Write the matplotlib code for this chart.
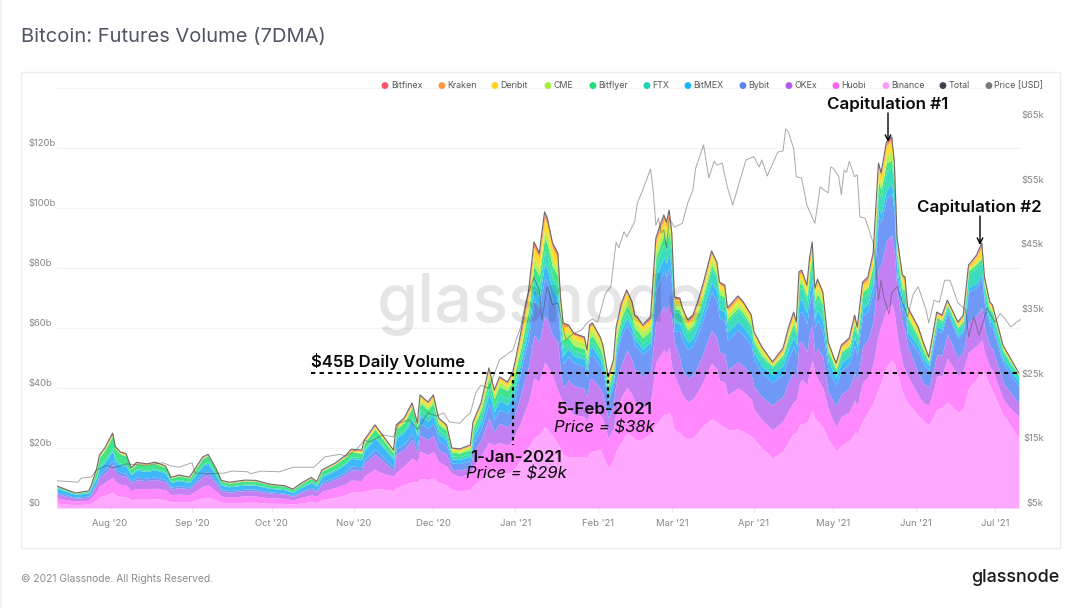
import matplotlib
matplotlib.use('Agg')
import matplotlib.pyplot as plt
import matplotlib.dates as mdates
from matplotlib.patches import Rectangle
from matplotlib.ticker import FuncFormatter
import numpy as np
import pandas as pd

plt.rcParams['font.family'] = ['Inter', 'DejaVu Sans']

W, H = 1080, 608
START = pd.Timestamp('2020-07-12')

# days since START for the volume samples
vol_days = [0, 7, 12, 13, 15, 16, 18, 21, 22, 24, 26,
    28, 30, 34, 37, 41, 43, 46, 50, 53, 55, 57, 60, 62, 65, 71, 75, 80, 86, 89, 92, 96, 98, 100, 105, 109,
    111, 115, 116, 120, 122, 127, 128, 131, 134, 136,
    137, 140, 142, 144, 147, 149, 152, 156, 157, 160, 163, 165, 167, 170, 172, 173,
    175, 178, 180, 182, 184, 185, 187, 189, 190, 191,
    193, 195, 199, 200, 201, 202, 205, 206, 208, 210, 211, 213, 215, 217, 218, 219, 221, 224,
    226, 227, 229, 230, 231, 232,
    233, 235, 236, 238, 240, 242, 244, 247, 249, 250, 252, 253, 257, 259, 262, 263, 266,
    270, 274, 276, 278, 279, 280, 281, 283, 284, 285, 286, 287, 289, 291, 294, 296, 299, 301, 302, 304, 306, 308,
    310, 311, 313, 315, 316, 317, 319, 320, 321, 325, 327, 329, 331, 332, 334, 336, 340, 342, 344, 347, 349, 350, 352, 353, 357, 358, 363]

# top edge of each stacked layer, in $b
binance_top = [1.6, 1.1, 1.3, 1.7, 2.8, 3.7, 4.2, 5.3, 4.4, 3.9, 3.8,
    2.7, 3.0, 2.9, 3.1, 2.8, 2.0, 2.2, 2.1, 2.9, 3.4, 3.6, 2.7, 1.9, 1.7, 1.9, 1.9, 1.6, 1.5, 1.3, 1.7, 2.1, 1.8, 2.8, 3.5, 4.4,
    5.3, 5.4, 5.6, 6.4, 6.4, 5.8, 6.8, 7.8, 8.8, 8.6,
    9.8, 9.5, 10, 8.6, 7.6, 6.2, 5.6, 6.2, 7.6, 9.5, 12, 11.5, 12, 11.6, 12.5, 13.7,
    16, 20.5, 23.3, 24.5, 27, 26.5, 24, 21.5, 19.5, 18,
    17, 17, 17, 16.8, 18.5, 19, 19.5, 17.5, 13.3, 16, 19, 22, 25, 24, 23, 22.7, 23, 25,
    28, 29, 31, 31.2, 31.7, 30,
    26, 25, 24, 23, 23.5, 25.5, 27.5, 29.7, 28.8, 28, 27, 26, 26.3, 25.5, 24, 23, 20,
    16.7, 19, 22, 25, 25, 27.5, 28, 28.5, 30.5, 32.7, 30, 29, 27, 23, 19, 21, 22.5, 25, 25, 29, 32, 35,
    40, 42, 47, 49.3, 48, 45, 39, 37, 35, 31, 29, 27.7, 31, 33, 33.5, 35.3, 32, 33, 40, 43, 46, 45, 41, 39, 31, 30, 23.3]
huobi_top = [3.3, 2.3, 2.6, 3.5, 5.6, 7.4, 8.4, 10.4, 8.8, 7.9, 7.7,
    5.8, 6.5, 6.4, 6.6, 6.0, 4.4, 4.7, 4.4, 6.1, 7.3, 7.7, 5.7, 4.0, 3.7, 4.0, 4.0, 3.4, 3.2, 2.7, 3.5, 4.4, 3.8, 5.6, 6.8, 8.0,
    9.3, 9.1, 10.7, 13, 11.9, 10.5, 11.8, 14.1, 16.6, 15.5,
    19, 17.7, 18.9, 15.5, 13.9, 11.5, 10.5, 11.5, 13.5, 17.5, 22, 21, 21.9, 21, 22.7, 24.7,
    28.6, 35.6, 43.5, 42, 48.7, 47.5, 44, 39, 37, 35,
    33, 31, 30.5, 28.5, 32.5, 33, 31, 29.5, 23.3, 26.5, 32.5, 37, 40.3, 37.8, 35.5, 35, 33.5, 35,
    48.6, 50, 52.8, 51.5, 53.7, 47,
    44, 40, 37.7, 35.4, 36.3, 39.2, 42.5, 48.3, 46.3, 42.5, 42, 37.7, 40, 38.8, 36.3, 33, 29.5,
    26, 29, 32.5, 35.5, 36, 41, 43, 41, 46, 49.3, 45, 43, 40, 33, 27, 30.5, 32, 36, 34, 42, 43.5, 48,
    58, 61, 66, 68, 65, 58, 48, 46, 44, 37.5, 35, 34.3, 40, 44, 44, 50, 44, 46, 52, 54, 56, 52, 47, 46, 36.5, 35, 30.3]
okex_top = [4.7, 3.2, 3.6, 4.9, 7.7, 10.2, 11.6, 14.5, 11.9, 10.8, 10.6,
    8.3, 9.4, 9.1, 9.5, 8.7, 6.3, 6.8, 6.4, 8.9, 10.5, 11.1, 8.2, 5.7, 5.3, 5.8, 5.7, 5.0, 4.6, 3.9, 5.1, 6.3, 5.5, 8.0, 9.5, 11.3,
    12.7, 12.5, 14.8, 18, 16.4, 12.5, 18, 19.5, 22.8, 18.4,
    24.3, 22.8, 24.3, 19.4, 17.9, 12.9, 12.7, 13.5, 18.5, 22.6, 30.1, 25.3, 28.2, 27.1, 29.2, 31.8,
    37.9, 47.3, 57.7, 55.3, 64, 62.9, 57.4, 55.3, 45.7, 40,
    42.7, 40.8, 39.9, 36.9, 42.7, 43.2, 39.9, 38, 30, 34.5, 42.2, 47.8, 52.7, 49.5, 46, 45.9, 43.9, 45.9,
    62.1, 64, 67.4, 65.8, 68.5, 63.3,
    55, 50, 46, 43.3, 44.4, 47.8, 52, 59.3, 56.6, 52, 51.3, 46, 48.8, 47.4, 44.4, 40.5, 37,
    34.3, 37.3, 42, 45.7, 43.4, 55, 55.5, 52, 58.3, 61, 51.3, 53.4, 50.4, 38.7, 34, 38, 40, 45, 42.2, 54, 56, 62,
    80, 81, 89, 91, 85, 72, 62, 59, 54, 45, 41.5, 40.3, 47, 51, 51, 58, 50, 52, 62, 64, 67, 60, 54, 53, 42, 40.5, 35]
bybit_top = [5.2, 3.6, 4.0, 5.5, 8.5, 11.3, 12.8, 16, 13.1, 11.9, 11.6,
    9.1, 10.3, 10, 10.4, 9.5, 6.9, 7.5, 7, 9.7, 11.6, 12.2, 9, 6.3, 5.8, 6.3, 6.3, 5.4, 5, 4.3, 5.6, 6.9, 6, 8.7, 10.3, 12.2,
    14, 13.7, 16.1, 19.7, 18, 13.7, 19.7, 21.3, 24.9, 20.1,
    28.3, 26.5, 28.3, 22.5, 20.8, 15, 14.8, 15.8, 21.5, 26.3, 35, 29.5, 32.8, 31.5, 34, 37,
    45.5, 56.7, 69.2, 66.3, 76.7, 75.4, 68.9, 66.3, 54.8, 48,
    50.6, 48.4, 47.3, 43.7, 50.6, 51.2, 47.3, 45, 36, 41, 50.6, 57.4, 61, 57.7, 54, 53.5, 51.2, 53.5,
    72.9, 75, 79, 77.2, 80.4, 74.3,
    59, 58.8, 56, 52.7, 54, 58.2, 63.3, 72, 68.9, 63.3, 62.4, 56, 59.4, 57.7, 54, 49.3, 45.1,
    41.7, 44.8, 50, 54, 51.5, 65, 65.5, 61.5, 68, 71.7, 60, 62.5, 59, 46, 41, 46, 48, 54, 51, 64, 65.5, 72,
    97, 95, 103, 105, 98, 77, 66, 65.5, 57, 52, 48, 46, 55, 59, 58.5, 65, 56.5, 58.5, 72, 73.5, 76.7, 68, 61, 60, 48, 47, 40.3]
bitmex_top = [6.6, 4.5, 5.1, 6.9, 10.1, 13.4, 15.2, 19, 15.6, 14.1, 13.8,
    11.1, 12.6, 12.2, 12.7, 11.6, 8.5, 9.1, 8.5, 11.9, 14.1, 14.9, 11, 7.6, 7.1, 7.7, 7.6, 6.6, 6.1, 5.2, 6.8, 8.5, 7.3, 10.5, 12.5, 14.8,
    16.5, 16.2, 19.1, 23.3, 21.3, 16.2, 23.3, 25.2, 29.4, 23.8,
    31, 28.9, 30.9, 24.6, 22.7, 16.4, 16.2, 17.2, 23.5, 28.7, 38.3, 32.2, 35.8, 34.4, 37.1, 40.4,
    48.1, 60, 73.2, 70.1, 81.5, 79.8, 72.8, 70.1, 58, 50.9,
    53, 50.7, 49.6, 45.8, 53, 53.7, 49.6, 47.2, 37, 42.9, 52.5, 59.4, 63.3, 59.8, 56, 55.4, 53, 55.4,
    77, 79.3, 83.5, 81.5, 85, 78.4,
    61.9, 61.6, 58.7, 55.2, 56.6, 61, 66.3, 75.3, 72.2, 66.3, 65.4, 58.7, 62.2, 60.5, 56.6, 51.7, 47.3,
    44.5, 47.5, 53, 57, 54.5, 69, 69.5, 65, 72, 76, 63.5, 66, 62.5, 49, 43.5, 48.5, 50.5, 57, 53.5, 66.5, 68, 75,
    100, 98, 106, 108, 101, 79.5, 68.5, 68, 59, 54, 49.5, 47.5, 56.5, 60.5, 59.7, 66, 57.5, 59.5, 73.5, 75, 78.3, 69.5, 62.5, 61.5, 49.5, 48.5, 42]
ftx_top = [6.8, 4.7, 5.3, 7.2, 10.6, 14.1, 16, 20, 16.4, 14.9, 14.6,
    11.5, 13.1, 12.6, 13.2, 12, 8.8, 9.5, 8.9, 12.3, 14.6, 15.4, 11.4, 7.9, 7.4, 8, 7.9, 6.9, 6.4, 5.4, 7.1, 8.8, 7.6, 10.9, 12.9, 15.1,
    17.1, 16.8, 19.7, 24.1, 22, 16.8, 24.1, 26.1, 30.5, 24.6,
    32.8, 30.7, 32.8, 26.1, 24.1, 17.4, 17.1, 18.3, 25, 30.5, 40.6, 34.2, 38, 36.5, 39.4, 42.9,
    50.7, 63.2, 77.2, 74, 85.9, 84.1, 76.8, 74, 61.2, 53.7,
    54.9, 52.5, 51.3, 47.4, 54.9, 55.5, 51.3, 48.9, 39.3, 44.4, 54.3, 61.5, 65.4, 61.8, 57.9, 57.3, 54.9, 57.3,
    81, 83.4, 87.9, 85.8, 89.3, 82.5,
    65.4, 65.1, 62, 58.3, 59.8, 64.4, 70, 79.7, 76.3, 70, 69.1, 62, 65.8, 63.9, 59.8, 54.6, 49.9,
    46.7, 50, 56, 60, 57.5, 73, 73.5, 69, 76.5, 79.3, 67, 69.5, 65.5, 51.5, 45.5, 51, 53, 60, 56.5, 70, 71.5, 78.5,
    106, 103, 112, 114, 106, 83, 71.5, 71, 62, 56, 51.5, 48.5, 58, 62.5, 61.7, 67.3, 59.5, 61.5, 78, 80, 82, 73, 65.5, 64.5, 52, 50.5, 44]
bitflyer_top = [7.2, 4.9, 5.6, 7.6, 12.8, 16.9, 19.2, 24, 19.7, 17.9, 17.5,
    13, 14.7, 14.3, 14.8, 13.6, 9.9, 10.7, 10, 13.9, 16.5, 17.4, 12.8, 8.9, 8.3, 9, 8.9, 7.8, 7.2, 6.1, 8, 9.9, 8.5, 12.3, 14.6, 17.1,
    18.6, 18.3, 21.6, 26.3, 24, 18.3, 26.3, 28.5, 33.3, 26.9,
    35, 32.8, 35, 27.9, 25.8, 18.6, 18.3, 19.5, 26.7, 32.6, 43.4, 36.5, 40.6, 39.1, 42.1, 45.8,
    53, 66.2, 80.7, 77.4, 90, 88, 80.4, 77.4, 64, 56.1,
    56.7, 54.2, 53, 49, 56.7, 57.4, 53, 50.5, 40.6, 45.8, 56, 63.5, 67.6, 63.9, 59.8, 59.2, 56.7, 59.2,
    83.7, 86.2, 90.9, 88.6, 92.3, 85.3,
    66.4, 66.2, 63, 59.3, 60.8, 65.5, 71.2, 81, 77.5, 71.2, 70.2, 63, 66.8, 64.9, 60.8, 55.5, 50.7,
    47.3, 51, 57, 61.5, 58.5, 74.5, 75, 70.5, 78.5, 83.3, 69, 71.5, 67.5, 52.5, 46.3, 52, 54, 61.5, 58, 72, 73.5, 81,
    109, 106, 115, 116, 108.5, 85, 73, 72.5, 63.5, 57, 52.5, 49, 58.7, 63.5, 62.5, 67.8, 60.2, 62.3, 79, 81.3, 83.3, 74, 66.3, 65.3, 52.7, 51.2, 44.3]
cme_top = [7.22, 4.95, 5.64, 7.62, 13, 17.2, 19.5, 24.4, 20, 18.1, 17.7,
    13.1, 14.9, 14.4, 15, 13.7, 10, 10.8, 10.1, 14, 16.7, 17.5, 12.9, 9, 8.4, 9.1, 9, 7.8, 7.3, 6.2, 8, 10, 8.6, 12.4, 14.7, 17.2,
    18.9, 18.6, 21.9, 26.7, 24.4, 18.6, 26.7, 29, 33.8, 27.3,
    36.3, 34, 36.3, 28.9, 26.7, 19.3, 19, 20.3, 27.7, 33.8, 45, 37.9, 42.2, 40.5, 43.7, 47.6,
    54.8, 68.3, 83.4, 79.9, 92.7, 90.9, 83, 79.9, 66.1, 58,
    58.9, 56.3, 55, 50.9, 58.9, 59.5, 55, 52.4, 42.2, 47.6, 58.2, 65.9, 70, 66.3, 62, 61.5, 58.9, 61.5,
    86.4, 89, 93.8, 91.5, 95, 88,
    68.2, 67.9, 64.7, 60.8, 62.4, 67.2, 73, 83, 79.5, 73, 72, 64.7, 68.6, 66.6, 62.4, 56.9, 52.1,
    47.7, 51.7, 58, 63, 59.8, 76, 76.5, 71.7, 80.4, 85.3, 70.7, 73.6, 69.5, 53.4, 46.8, 52.5, 54.7, 62, 58.4, 72.6, 74.3, 82,
    111, 107.5, 117.5, 119, 111, 87, 74.8, 74.2, 64.5, 58, 53.3, 49.5, 59, 64, 63, 68.2, 60.7, 62.8, 79.6, 82, 84, 74.8, 67, 66, 53.2, 51.6, 44.5]
deribit_top = [7.26, 4.98, 5.67, 7.66, 13.2, 17.4, 19.8, 24.7, 20.3, 18.4, 18,
    13.3, 15, 14.6, 15.1, 13.9, 10.1, 10.9, 10.2, 14.2, 16.8, 17.7, 13.1, 9.1, 8.5, 9.2, 9.1, 7.9, 7.3, 6.2, 8.1, 10.1, 8.7, 12.6, 14.9, 17.4,
    19.3, 19, 22.4, 27.3, 24.9, 19, 27.3, 29.6, 34.5, 27.9,
    37.3, 34.9, 37.3, 29.7, 27.4, 19.8, 19.5, 20.8, 28.4, 34.7, 46.2, 38.9, 43.3, 41.6, 44.8, 48.8,
    57.1, 71.2, 86.9, 83.3, 96.7, 94.8, 86.5, 83.3, 68.9, 60.5,
    60.4, 57.7, 56.4, 52.2, 60.4, 61.1, 56.4, 53.8, 43.3, 48.8, 59.7, 67.6, 72, 68, 63.7, 63.1, 60.4, 63.1,
    88.7, 91.3, 96.2, 93.9, 97.8, 90.3,
    69.6, 69.3, 66, 62.1, 63.7, 68.6, 74.5, 85, 81.2, 74.5, 73.6, 66, 70, 68, 63.7, 58.1, 53.2,
    48.3, 52.8, 59.4, 64.6, 61.4, 77.9, 78.5, 73.6, 82.5, 88, 72.6, 75.5, 71.3, 54.8, 47.9, 53.8, 56.1, 63.7, 59.7, 74.5, 76.2, 84.2,
    113.9, 110.6, 120.8, 122.5, 114.2, 89.4, 76.9, 76.2, 66.3, 59.7, 54.5, 50, 59.9, 64.9, 63.9, 69, 61.6, 63.9, 80.5, 83.8, 87, 76.3, 68.2, 67.2, 54, 52.4, 44.8]
kraken_top = [7.28, 4.99, 5.69, 7.68, 13.25, 17.5, 19.9, 24.9, 20.4, 18.5, 18.1,
    13.35, 15.1, 14.65, 15.2, 13.95, 10.15, 10.95, 10.25, 14.25, 16.9, 17.8, 13.15, 9.15, 8.55, 9.25, 9.15, 7.95, 7.35, 6.25, 8.15, 10.15, 8.75, 12.65, 14.95, 17.5,
    19.5, 19.2, 22.6, 27.55, 25.15, 19.2, 27.55, 29.85, 34.8, 28.15,
    37.5, 35.1, 37.5, 29.85, 27.55, 19.9, 19.6, 20.9, 28.55, 34.85, 46.45, 39.1, 43.5, 41.8, 45.05, 49.05,
    57.8, 72.1, 88, 84.4, 98, 96, 87.7, 84.4, 69.8, 61.3,
    60.7, 58, 56.7, 52.4, 60.7, 61.4, 56.7, 54, 43.5, 49.05, 60, 68, 72.35, 68.35, 64, 63.4, 60.7, 63.4,
    89.5, 92.2, 97.1, 94.8, 98.8, 91.2,
    70, 69.7, 66.4, 62.4, 64, 69, 75, 85.35, 81.6, 75, 74, 66.4, 70.4, 68.4, 64, 58.4, 53.45,
    48.5, 53.1, 59.75, 65, 61.75, 78.35, 79, 74, 83, 88.35, 73, 76, 71.7, 55.1, 48.1, 54.05, 56.4, 64, 60, 75, 76.65, 84.6,
    114.5, 111.2, 121.5, 123.1, 114.8, 89.9, 77.3, 76.6, 66.7, 60, 54.8, 50.2, 60.1, 65.1, 64.1, 69.2, 61.8, 64.1, 80.8, 84.1, 88, 76.7, 68.5, 67.5, 54.2, 52.55, 44.9]
total = [7.3, 5.0, 5.7, 7.7, 13.3, 17.6, 20, 25, 20.5, 18.6, 18.2,
    13.4, 15.2, 14.7, 15.3, 14, 10.2, 11, 10.3, 14.3, 17, 17.9, 13.2, 9.2, 8.6, 9.3, 9.2, 8, 7.4, 6.3, 8.2, 10.2, 8.8, 12.7, 15, 17.6,
    19.6, 19.3, 22.7, 27.7, 25.3, 19.3, 27.7, 30, 35, 28.3,
    37.7, 35.3, 37.7, 30, 27.7, 20, 19.7, 21, 28.7, 35, 46.7, 39.3, 43.7, 42, 45.3, 49.3,
    58.3, 72.7, 88.7, 85, 98.7, 96.7, 88.3, 85, 70.3, 61.7,
    61, 58.3, 57, 52.7, 61, 61.7, 57, 54.3, 43.7, 49.3, 60.3, 68.3, 72.7, 68.7, 64.3, 63.7, 61, 63.7,
    90, 92.7, 97.7, 95.3, 99.3, 91.7,
    70.3, 70, 66.7, 62.7, 64.3, 69.3, 75.3, 85.7, 82, 75.3, 74.3, 66.7, 70.7, 68.7, 64.3, 58.7, 53.7,
    48.7, 53.3, 60, 65.3, 62, 78.7, 79.3, 74.3, 83.3, 88.7, 73.3, 76.3, 72, 55.3, 48.3, 54.3, 56.7, 64.3, 60.3, 75.3, 77, 85,
    115, 111.7, 122, 123.7, 115.3, 90.3, 77.7, 77, 67, 60.3, 55, 50.3, 60.3, 65.3, 64.3, 69.3, 62, 64.3, 81, 84.3, 88.3, 77, 68.7, 67.7, 54.3, 52.7, 45]

price_days = [0, 8, 9, 13, 15, 19, 21, 24, 26, 34, 40, 43, 46, 51, 52, 57, 63, 66, 72, 73, 77, 84, 89, 97, 101, 107, 109, 113,
    116, 118, 123, 127, 129, 133, 136, 140, 143, 146, 148, 152, 154, 156, 158, 160, 163, 167, 172, 175, 177, 180, 182, 183, 185, 187, 189,
    192, 195, 198, 200, 202, 204, 207, 209, 211, 212, 214, 215, 218, 219, 221, 224, 225, 226, 227, 228, 229, 230, 231, 233, 236, 238, 240,
    241, 244, 246, 248, 249, 251, 253, 255, 258, 260, 263, 265, 266, 268, 272, 274, 275, 276, 278, 279, 281, 283, 286, 288, 291, 292, 293,
    295, 296, 297, 298, 299, 301, 302, 303, 305, 308, 309, 310, 311, 312, 314, 315, 317, 321, 323, 325, 328, 329, 331, 333, 335, 337, 340,
    343, 344, 346, 348, 350, 351, 354, 356, 358, 360, 362, 364]
price = [9.2, 9.0, 9.6, 9.8, 10.9, 11.6, 11.2, 11.5, 11.8, 11.6, 12, 11.5, 11.3, 12, 10.4, 10.3, 10.4, 10.7, 10.6, 10.3, 10.7, 10.6, 11.3, 11.3, 12.9, 13.3, 13, 14,
    15.5, 15.2, 16.3, 16, 18.1, 18.6, 17.1, 19.7, 19.2, 19.7, 18.3, 18.1, 19, 19.7, 22.8, 24, 23.5, 27.9, 29.4, 33, 37.1, 40.7, 38.7, 34, 39.2, 36.4, 36.7,
    31, 32, 32.5, 33.6, 34.2, 33.7, 38.2, 39.2, 46.1, 45.2, 47.7, 46.9, 49.2, 52.1, 54.1, 57.4, 54.1, 48.7, 49.8, 47.5, 48, 45.2, 49.8, 48.4, 49, 52.1, 54.2,
    57.5, 61.1, 56, 58.6, 58, 58.3, 54.6, 51.8, 56, 58.8, 59.3, 57.7, 58.8, 56.3, 60, 60.2, 63.6, 63.1, 60.6, 56.2, 56, 51.8, 49, 54.6, 53.7, 57.7, 57.5,
    56.2, 53.4, 57.2, 56.9, 58.6, 56.2, 56.5, 50, 49.8, 46, 42.9, 37.1, 40.2, 37.6, 35, 38.2, 39.2, 34.5, 37.9, 39.2, 35.6, 33.6, 37.1, 36.8, 40.2, 40.2, 36.7,
    35.6, 31.4, 34.5, 31.7, 34.5, 35.9, 33.7, 35.1, 34.1, 33, 33.7, 34.2]

# bottom to top
stack_tops = [binance_top, huobi_top, okex_top, bybit_top, bitmex_top, ftx_top,
              bitflyer_top, cme_top, deribit_top, kraken_top, total]
stack_colors = ['#ffa8ff', '#ff88ff', '#c480f2', '#7098f6', '#3fb8fa', '#3cdcbc',
                '#40e48a', '#b4f25c', '#ffdc30', '#ff9640', '#ff5468']

legend_names = ['Bitfinex', 'Kraken', 'Deribit', 'CME', 'Bitflyer', 'FTX', 'BitMEX',
                'Bybit', 'OKEx', 'Huobi', 'Binance', 'Total', 'Price [USD]']
legend_colors = ['#ff5468', '#ff9640', '#ffd21f', '#a6f03c', '#1fdc78', '#1fd2b4', '#1fb4fa',
                 '#5a82f0', '#b45af0', '#ff64f5', '#ff9bf5', '#3c4150', '#787878']
legend_x = [384.5, 441, 494, 547, 592, 646, 687, 742, 788, 835, 885, 942, 988]

vol_x = START + pd.to_timedelta(vol_days, unit='D')
price_x = START + pd.to_timedelta(price_days, unit='D')
x_end = START + pd.Timedelta(days=363.8)
vol_tops = [np.array(t) for t in stack_tops]


def day(n):
    return START + pd.Timedelta(days=n)


def fx(px):
    return px / W


def fy(px):
    return 1 - px / H


fig = plt.figure(figsize=(W / 100, H / 100), dpi=100, facecolor='white')

# card around the chart, behind the axes
fig.add_artist(Rectangle((fx(21), fy(548)), fx(1039), 476 / H, transform=fig.transFigure,
                         fc='white', ec='#ececec', lw=1, zorder=-5))
fig.add_artist(Rectangle((0, 0), fx(1.5), 1, transform=fig.transFigure, fc='#f0f0f0', ec='none', zorder=-5))

ax = fig.add_axes([fx(57), fy(508), 964 / W, 420 / H])
ax.patch.set_alpha(0)

lower = np.zeros(len(vol_days))
for top, color in zip(vol_tops, stack_colors):
    ax.fill_between(vol_x, lower, top, color=color, linewidth=0, zorder=2)
    lower = top
ax.plot(vol_x, total, color='#6a6a6a', lw=0.8, zorder=3)

ax.set_xlim(START, x_end)
ax.set_ylim(0, 140)
ax.set_yticks(range(0, 141, 20))
ax.yaxis.set_major_formatter(FuncFormatter(lambda v, _: '' if v == 140 else f'${int(v)}b' if v else '$0'))
ax.grid(axis='y', color='#f3f3f3', lw=1, zorder=0)
ax.tick_params(axis='y', length=0, pad=20.5, labelsize=6.8, labelcolor='#858585')
plt.setp(ax.get_yticklabels(), ha='left', va='bottom')
ax.xaxis.set_major_locator(mdates.MonthLocator())
ax.xaxis.set_major_formatter(mdates.DateFormatter("%b '%y"))
ax.tick_params(axis='x', length=3, width=0.6, color='#e2e2e2', pad=5, labelsize=6.8, labelcolor='#858585')
for s in ax.spines.values():
    s.set_visible(False)

ax2 = ax.twinx()
ax2.plot(price_x, price, color='#404040', alpha=0.45, lw=0.7)
ax2.set_ylim(5, 5 + 420 / 6.47)
ax2.set_yticks(range(5, 66, 10))
ax2.yaxis.set_major_formatter(FuncFormatter(lambda v, _: f'${int(v)}k'))
ax2.tick_params(axis='y', length=0, pad=16.5, labelsize=6.8, labelcolor='#858585')
plt.setp(ax2.get_yticklabels(), ha='right', va='bottom')
for s in ax2.spines.values():
    s.set_visible(False)

# 45B guide and the two date drop lines
ax2.patch.set_alpha(0)
ax.plot([day(96), day(363)], [45, 45], color='black', lw=1.4, ls=(0, (2.2, 2.2)), zorder=5)
ax.plot([day(172), day(172)], [45, 21], color='black', lw=1.6, ls=(0, (1.5, 1.7)), zorder=5)
ax.plot([day(208), day(208)], [45, 34.5], color='black', lw=1.6, ls=(0, (1.5, 1.7)), zorder=5)

# legend
for name, color, x in zip(legend_names, legend_colors, legend_x):
    fig.text(fx(x), fy(85.7), '●', color=color, fontsize=6.5, ha='center', va='center', family='DejaVu Sans')
    fig.text(fx(x + 6.5), fy(85.7), name, color='#555555', fontsize=6.4, ha='left', va='center')

# callouts
def note(x, y, s, **kw):
    fig.text(fx(x), fy(y), s, color='#0a0a0a', ha='center', va='center', **kw)


note(388, 361.5, '$45B Daily Volume', fontsize=12, fontweight='semibold')
note(887.5, 104.5, 'Capitulation #1', fontsize=12.2, fontweight='semibold')
note(979.5, 207.5, 'Capitulation #2', fontsize=12.2, fontweight='semibold')
note(516, 457, '1-Jan-2021', fontsize=12.2, fontweight='semibold')
note(516, 474, 'Price = $29k', fontsize=12, fontstyle='italic')
note(604.5, 410, '5-Feb-2021', fontsize=12.2, fontweight='semibold')
note(604.5, 428, 'Price = $38k', fontsize=12, fontstyle='italic')
for x, y0, y1 in [(888, 113, 142), (980, 216, 245)]:
    ax2.annotate('', xy=(fx(x), fy(y1)), xytext=(fx(x), fy(y0)), xycoords='figure fraction',
                 textcoords='figure fraction',
                 arrowprops=dict(arrowstyle='->', color='black', lw=1, shrinkA=0, shrinkB=0))

# watermark, logo, header and footer
fig.text(fx(541), fy(304), 'glassnode', color='black', alpha=0.1, fontsize=48, ha='center', va='center',
         fontweight='medium', zorder=10)
fig.text(fx(21), fy(37), 'Bitcoin: Futures Volume (7DMA)', color='#4f5562', fontsize=14.5, ha='left', va='center')
fig.text(fx(21), fy(578.5), '© 2021 Glassnode. All Rights Reserved.', color='#8a8a8a', fontsize=7.4, ha='left', va='center')
fig.text(fx(1059), fy(578), 'glassnode', color='#1a1a1a', fontsize=12.9, ha='right', va='center', fontweight='medium')

fig.savefig('out.png', dpi=100)
